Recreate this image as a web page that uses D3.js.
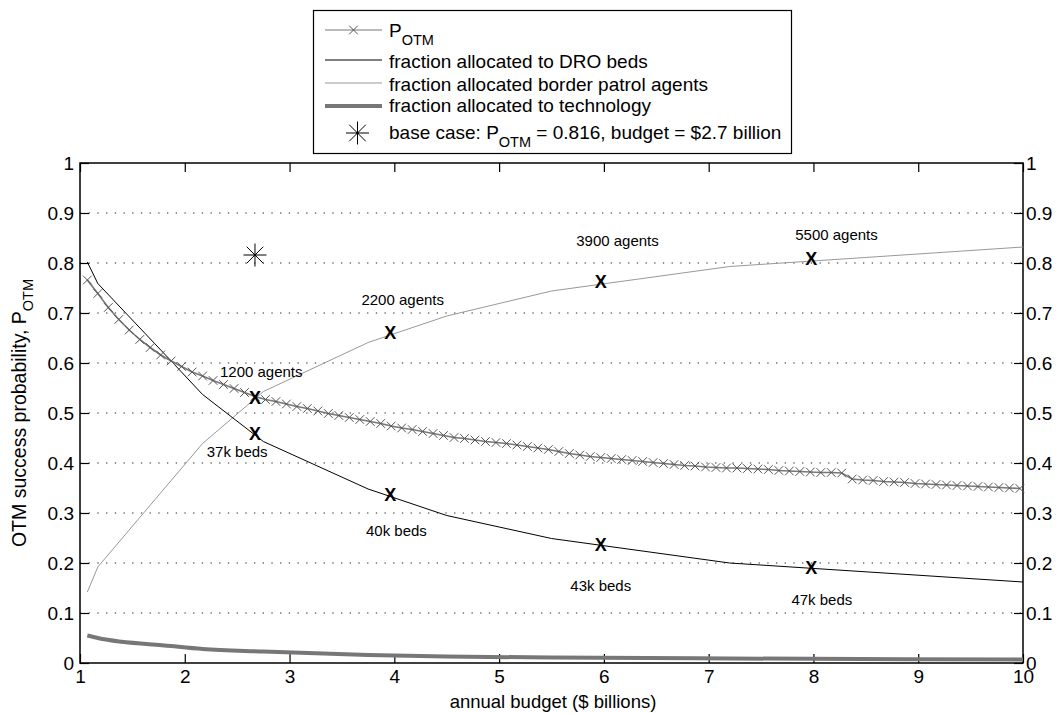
<!DOCTYPE html>
<html>
<head>
  <meta charset="UTF-8">
  <title>OTM success probability vs budget</title>
  <script src="https://cdn.jsdelivr.net/npm/d3@7"></script>
  <style>
    body { margin: 0; background: #fff; }
    svg { display: block; font-family: "Liberation Sans", Arial, sans-serif; }
    .axis text { font-size: 19px; fill: #000; }
    .axis line { stroke: #000; stroke-width: 1.2; }
    .axis path { display: none; }
  </style>
</head>
<body>

<div class="chart"></div>

<script>
  // ---- data ----
  var xTicks = [1, 2, 3, 4, 5, 6, 7, 8, 9, 10];
  var yTicks = [0, 0.1, 0.2, 0.3, 0.4, 0.5, 0.6, 0.7, 0.8, 0.9, 1];

  // P_OTM, one value every $0.1 billion starting at 1.07
  var potmStart = 1.07, potmStep = 0.1;
  var potm = [
    0.766, 0.739, 0.711, 0.687, 0.666, 0.647, 0.631, 0.616, 0.604, 0.593,
    0.582, 0.574, 0.565, 0.557, 0.549, 0.541, 0.533, 0.527, 0.523, 0.518,
    0.513, 0.509, 0.504, 0.499, 0.495, 0.491, 0.487, 0.483, 0.479, 0.474,
    0.470, 0.467, 0.463, 0.459, 0.455, 0.451, 0.449, 0.446, 0.443, 0.441,
    0.439, 0.436, 0.433, 0.430, 0.427, 0.423, 0.419, 0.416, 0.413, 0.411,
    0.409, 0.407, 0.405, 0.403, 0.401, 0.399, 0.397, 0.395, 0.394, 0.392,
    0.391, 0.390, 0.390, 0.389, 0.388, 0.387, 0.385, 0.384, 0.383, 0.382,
    0.381, 0.381, 0.380, 0.368, 0.366, 0.365, 0.363, 0.362, 0.361, 0.359,
    0.358, 0.357, 0.356, 0.355, 0.354, 0.353, 0.352, 0.351, 0.350, 0.349
  ];

  // allocation fractions at the solved budgets
  var allocBudget = [1.07, 1.17, 1.87, 2.17, 2.75, 3.75, 4.5, 5.5, 7.2, 10];
  var bedsFrac    = [0.802, 0.759, 0.604, 0.537, 0.443, 0.348, 0.295, 0.249, 0.200, 0.162];
  var agentsFrac  = [0.142, 0.192, 0.365, 0.439, 0.543, 0.641, 0.694, 0.744, 0.793, 0.832];
  var techFrac    = [0.055, 0.050, 0.034, 0.028, 0.023, 0.016, 0.013, 0.011, 0.009, 0.007];

  // highlighted points
  var markBudget = [2.67, 3.96, 5.97, 7.98];
  var markAgents = [0.530, 0.660, 0.762, 0.809];
  var markBeds   = [0.458, 0.336, 0.237, 0.190];
  var agentLabels = ['1200 agents', '2200 agents', '3900 agents', '5500 agents'];
  var agentLabelX = [2.73, 4.08, 6.13, 8.22];
  var agentLabelY = [0.582, 0.727, 0.844, 0.857];
  var bedLabels = ['37k beds', '40k beds', '43k beds', '47k beds'];
  var bedLabelX = [2.50, 4.02, 5.97, 8.08];
  var bedLabelY = [0.423, 0.265, 0.155, 0.127];

  var baseBudget = 2.67, basePotm = 0.816;

  // ---- layout ----
  var W = 1059, H = 713;
  var plot = { left: 80, right: 1023, top: 163, bottom: 663 };

  var svg = d3.select('.chart').append('svg')
    .attr('width', W)
    .attr('height', H);

  var x = d3.scaleLinear().domain([1, 10]).range([plot.left, plot.right]);
  var y = d3.scaleLinear().domain([0, 1]).range([plot.bottom, plot.top]);

  // grid (dotted)
  svg.append('g').selectAll('line')
    .data(yTicks.filter(d => d > 0 && d < 1))
    .enter().append('line')
      .attr('x1', plot.left).attr('x2', plot.right)
      .attr('y1', d => y(d)).attr('y2', d => y(d))
      .attr('stroke', '#222')
      .attr('stroke-width', 1)
      .attr('stroke-dasharray', '1.3,7.4');

  // axes, ticks pointing inward
  svg.append('g').attr('class', 'axis')
    .attr('transform', `translate(${plot.left},0)`)
    .call(d3.axisLeft(y).tickValues(yTicks).tickFormat(d => d).tickSizeInner(-9).tickSizeOuter(0).tickPadding(6));
  svg.append('g').attr('class', 'axis')
    .attr('transform', `translate(${plot.right},0)`)
    .call(d3.axisRight(y).tickValues(yTicks).tickFormat(d => d).tickSizeInner(-9).tickSizeOuter(0).tickPadding(3));
  svg.append('g').attr('class', 'axis')
    .attr('transform', `translate(0,${plot.bottom})`)
    .call(d3.axisBottom(x).tickValues(xTicks).tickFormat(d => d).tickSizeInner(-9).tickSizeOuter(0).tickPadding(7));
  svg.append('g').attr('class', 'axis')
    .attr('transform', `translate(0,${plot.top})`)
    .call(d3.axisTop(x).tickValues(xTicks).tickFormat('').tickSizeInner(-9).tickSizeOuter(0));

  // frame
  svg.append('rect')
    .attr('x', plot.left).attr('y', plot.top)
    .attr('width', plot.right - plot.left).attr('height', plot.bottom - plot.top)
    .attr('fill', 'none').attr('stroke', '#000').attr('stroke-width', 1.5);

  // axis titles
  svg.append('text')
    .attr('x', 553).attr('y', 708)
    .attr('text-anchor', 'middle').attr('font-size', 18.5)
    .text('annual budget ($ billions)');

  var yl = svg.append('text')
    .attr('transform', `translate(26,${(plot.top + plot.bottom) / 2}) rotate(-90)`)
    .attr('text-anchor', 'middle').attr('font-size', 19.5);
  yl.append('tspan').text('OTM success probability, P');
  yl.append('tspan').attr('font-size', 14.5).attr('dy', 7).text('OTM');

  // ---- series ----
  var potmData = potm.map((v, i) => [potmStart + i * potmStep, v]);
  var alloc = allocBudget.map((b, i) => ({ b: b, beds: bedsFrac[i], agents: agentsFrac[i], tech: techFrac[i] }));

  var line = d3.line().x(d => x(d[0])).y(d => y(d[1]));

  svg.append('path')
    .datum(alloc.map(d => [d.b, d.tech]))
    .attr('d', line.curve(d3.curveMonotoneX))
    .attr('fill', 'none').attr('stroke', '#777').attr('stroke-width', 4);
  line.curve(d3.curveLinear);

  svg.append('path')
    .datum(alloc.map(d => [d.b, d.agents]))
    .attr('d', line)
    .attr('fill', 'none').attr('stroke', '#999').attr('stroke-width', 1);

  svg.append('path')
    .datum(alloc.map(d => [d.b, d.beds]))
    .attr('d', line)
    .attr('fill', 'none').attr('stroke', '#000').attr('stroke-width', 1);

  svg.append('path')
    .datum(potmData)
    .attr('d', line)
    .attr('fill', 'none').attr('stroke', '#777').attr('stroke-width', 1.6);

  function xMark(sel, s) {
    return sel.attr('d', `M${-s},${-s}L${s},${s}M${-s},${s}L${s},${-s}`);
  }

  svg.append('g').selectAll('path')
    .data(potmData)
    .enter().append('path')
      .attr('transform', d => `translate(${x(d[0])},${y(d[1])})`)
      .call(xMark, 4.3)
      .attr('stroke', '#555').attr('stroke-width', 1).attr('fill', 'none');

  // bold X highlights
  var marks = [];
  markBudget.forEach((b, i) => { marks.push([b, markAgents[i]]); marks.push([b, markBeds[i]]); });
  svg.append('g').selectAll('text')
    .data(marks)
    .enter().append('text')
      .attr('x', d => x(d[0])).attr('y', d => y(d[1]))
      .attr('dy', '0.36em')
      .attr('text-anchor', 'middle')
      .attr('font-size', 18).attr('font-weight', 'bold')
      .text('X');

  // annotation labels
  var labels = agentLabels.map((t, i) => [t, agentLabelX[i], agentLabelY[i]])
    .concat(bedLabels.map((t, i) => [t, bedLabelX[i], bedLabelY[i]]));
  svg.append('g').selectAll('text')
    .data(labels)
    .enter().append('text')
      .attr('x', d => x(d[1])).attr('y', d => y(d[2]))
      .attr('dy', '0.35em')
      .attr('text-anchor', 'middle')
      .attr('font-size', 15)
      .text(d => d[0]);

  // base case asterisk
  function star(g, r) {
    var d = r * 0.72;
    g.append('path')
      .attr('d', `M0,${-r}L0,${r}M${-r},0L${r},0M${-d},${-d}L${d},${d}M${-d},${d}L${d},${-d}`)
      .attr('stroke', '#000').attr('stroke-width', 1).attr('fill', 'none');
    g.append('circle').attr('r', 1.3).attr('fill', '#000');
  }
  star(svg.append('g').attr('transform', `translate(${x(baseBudget)},${y(basePotm)})`), 11.5);

  // ---- legend ----
  var lg = svg.append('g');
  lg.append('rect')
    .attr('x', 313.5).attr('y', 10.5).attr('width', 478).attr('height', 143)
    .attr('fill', '#fff').attr('stroke', '#000').attr('stroke-width', 1.2);

  var lx0 = 325, lx1 = 382, tx = 389;
  var rows = [30, 60, 83, 106, 133];

  lg.append('line').attr('x1', lx0).attr('x2', lx1).attr('y1', rows[0]).attr('y2', rows[0])
    .attr('stroke', '#777').attr('stroke-width', 1);
  lg.append('path').attr('transform', `translate(${(lx0 + lx1) / 2},${rows[0]})`).call(xMark, 4.3)
    .attr('stroke', '#555').attr('stroke-width', 1);
  lg.append('line').attr('x1', lx0).attr('x2', lx1).attr('y1', rows[1]).attr('y2', rows[1])
    .attr('stroke', '#000').attr('stroke-width', 1);
  lg.append('line').attr('x1', lx0).attr('x2', lx1).attr('y1', rows[2]).attr('y2', rows[2])
    .attr('stroke', '#999').attr('stroke-width', 1);
  lg.append('line').attr('x1', lx0).attr('x2', lx1).attr('y1', rows[3]).attr('y2', rows[3])
    .attr('stroke', '#777').attr('stroke-width', 4);
  star(lg.append('g').attr('transform', `translate(${(lx0 + lx1) / 2 + 4},${rows[4]})`), 11.5);

  function legendText(yy) {
    return lg.append('text').attr('x', tx).attr('y', yy).attr('dy', '0.35em').attr('font-size', 19);
  }
  var t0 = legendText(rows[0]);
  t0.append('tspan').text('P');
  t0.append('tspan').attr('font-size', 14.5).attr('dy', 8).text('OTM');
  legendText(rows[1] + 1).text('fraction allocated to DRO beds');
  legendText(rows[2] + 1).text('fraction allocated border patrol agents');
  legendText(rows[3] - 1).text('fraction allocated to technology');
  var t4 = legendText(rows[4] - 1);
  t4.append('tspan').text('base case: P');
  t4.append('tspan').attr('font-size', 14.5).attr('dy', 8).text('OTM');
  t4.append('tspan').attr('dy', -8).text(' = 0.816, budget = $2.7 billion');
</script>

</body>
</html>
